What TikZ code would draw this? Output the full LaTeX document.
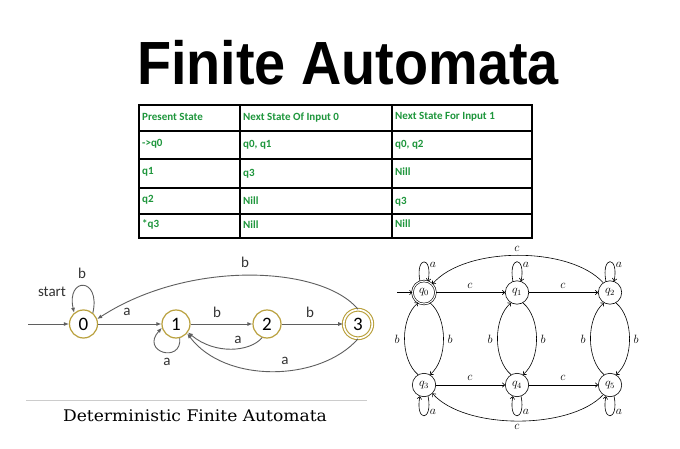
\documentclass[tikz,border=0pt]{standalone}
\usepackage{fontspec}
\usetikzlibrary{arrows.meta}
\newfontfamily\titlefont{Liberation Sans}
\newfontfamily\calfont{Carlito}
\newfontfamily\capfont{DejaVu Serif}
\definecolor{tgreen}{RGB}{30,150,60}
\definecolor{gold}{RGB}{185,160,60}
\definecolor{egray}{RGB}{95,95,95}
\begin{document}
\begin{tikzpicture}[x=1pt,y=-1pt,
  tline/.style={line width=1.7pt,black},
  tcell/.style={anchor=base west,inner sep=0pt,text=tgreen,font=\calfont\bfseries\fontsize{11}{12}\selectfont},
  dstate/.style={circle,draw=gold,line width=1.2pt,minimum size=28pt,inner sep=0pt,fill=white,font=\calfont\fontsize{19}{19}\selectfont},
  dedge/.style={egray,line width=0.9pt,-{Latex[length=5pt,width=4pt]}},
  dlabel/.style={inner sep=0pt,font=\calfont\fontsize{15}{15}\selectfont,text=black!80},
  nstate/.style={circle,draw,line width=0.6pt,minimum size=23.4pt,inner sep=0pt,font=\fontsize{12}{12}\selectfont},
  nedge/.style={line width=0.6pt,-{Computer Modern Rightarrow[length=3pt,width=5pt]}},
  nlabel/.style={inner sep=0pt,font=\fontsize{12}{12}\selectfont}]
\useasboundingbox (0,0) rectangle (680,449);
\fill[white] (0,0) rectangle (680,449);

% title
\node[anchor=base,inner sep=0pt,xscale=0.915,font=\titlefont\bfseries\fontsize{61}{61}\selectfont] (title) at (348,85) {Finite Automata};

% table
\draw[tline] (139,105) rectangle (532,238);
\draw[tline] (240,105) -- (240,238);
\draw[tline] (392,105) -- (392,238);
\foreach \yy in {131,159,188,214} \draw[tline] (139,\yy) -- (532,\yy);
\node[tcell] (t11) at (142,121) {Present State};
\node[tcell] (t12) at (243,121) {Next State Of Input 0};
\node[tcell] (t13) at (395,120) {Next State For Input 1};
\node[tcell] (t21) at (142,147) {->q0};
\node[tcell] (t22) at (243,148) {q0, q1};
\node[tcell] (t23) at (395,148) {q0, q2};
\node[tcell] (t31) at (142,175) {q1};
\node[tcell] (t32) at (243,177) {q3};
\node[tcell] (t33) at (395,176) {Nill};
\node[tcell] (t41) at (142,203) {q2};
\node[tcell] (t42) at (243,205) {Nill};
\node[tcell] (t43) at (395,205) {q3};
\node[tcell] (t51) at (142,228) {*q3};
\node[tcell] (t52) at (243,229) {Nill};
\node[tcell] (t53) at (395,228) {Nill};

% DFA
\node[dstate] (d0) at (83.5,324) {0};
\node[dstate] (d1) at (176,324) {1};
\node[dstate] (d2) at (267,324) {2};
\node[dstate,double=white,double distance=1.6pt,line width=1.1pt,minimum size=28.5pt] (d3) at (358,324) {3};
\coordinate (ds) at (28,324);
\draw[dedge] (ds) -- (d0);
\node[dlabel] (dstart) at (52,292) {start};
\draw[dedge] (d0.50) .. controls +(8,-36) and +(-8,-36) .. (d0.130);
\node[dlabel] (lb0) at (82,273) {b};
\draw[dedge] (d0) -- (d1);
\node[dlabel] (la01) at (127,312) {a};
\draw[dedge] (d1) -- (d2);
\node[dlabel] (lb12) at (217,312) {b};
\draw[dedge] (d2) -- (d3);
\node[dlabel] (lb23) at (310,312) {b};
\draw[dedge] (d3.north) .. controls (322,266) and (190,259) .. (d0.20);
\node[dlabel] (lb30) at (245,262) {b};
\draw[dedge] (d2.250) .. controls (250,352) and (215,355) .. (d1.-35);
\node[dlabel] (la21) at (238,340) {a};
\draw[dedge] (d3.south) .. controls (320,382) and (225,384) .. (d1.-40);
\node[dlabel] (la31) at (285,361) {a};
\draw[dedge] (d1.-75) .. controls (182,364) and (140,352) .. (d1.195);
\node[dlabel] (la11) at (167,362) {a};

% separator and caption
\coordinate (sepa) at (26,400);
\coordinate (sepb) at (367,400);
\draw[black!20,line width=1pt] (sepa) -- (sepb);
\node[anchor=base,inner sep=0pt,xscale=1.07,font=\capfont\fontsize{16}{16}\selectfont] (cap) at (195,421.5) {Deterministic Finite Automata};

% NFA
\node[nstate,double,double distance=1.1pt,minimum size=23pt] (q0) at (424,292.5) {$q_0$};
\node[nstate] (q1) at (517,292.5) {$q_1$};
\node[nstate] (q2) at (610,292.5) {$q_2$};
\node[nstate] (q3) at (424,385) {$q_3$};
\node[nstate] (q4) at (517,385) {$q_4$};
\node[nstate] (q5) at (610,385) {$q_5$};
\coordinate (ns) at (397,292.5);
\draw[nedge] (ns) -- (q0);
\foreach \n in {q0,q1,q2} {
  \draw[nedge] (\n.110) .. controls +(-5,-26) and +(5,-26) .. (\n.70);
  \node[nlabel] at ([shift={(9,-28)}]\n.center) {$a$};
}
\foreach \n in {q3,q4,q5} {
  \draw[nedge] (\n.-70) .. controls +(5,26) and +(-5,26) .. (\n.-110);
  \node[nlabel] at ([shift={(9,27)}]\n.center) {$a$};
}
\foreach \t/\b in {q0/q3,q1/q4,q2/q5} {
  \draw[nedge] (\b.120) .. controls +(-18,-15) and +(-18,15) .. (\t.240);
  \draw[nedge] (\t.-60) .. controls +(18,15) and +(18,-15) .. (\b.60);
  \node[nlabel] at ([shift={(-27,47)}]\t.center) {$b$};
  \node[nlabel] at ([shift={(26,47)}]\t.center) {$b$};
}
\draw[nedge] (q0) -- (q1);
\draw[nedge] (q1) -- (q2);
\draw[nedge] (q3) -- (q4);
\draw[nedge] (q4) -- (q5);
\node[nlabel] (c01) at (470,285.5) {$c$};
\node[nlabel] (c12) at (563,285.5) {$c$};
\node[nlabel] (c34) at (470,378) {$c$};
\node[nlabel] (c45) at (563,378) {$c$};
\draw[nedge] (q2.125) .. controls (570,246) and (465,246) .. (q0.45);
\node[nlabel] (c20) at (517,249) {$c$};
\draw[nedge] (q5.235) .. controls (570,430) and (465,430) .. (q3.-45);
\node[nlabel] (c53) at (517,427) {$c$};
\end{tikzpicture}
\end{document}
